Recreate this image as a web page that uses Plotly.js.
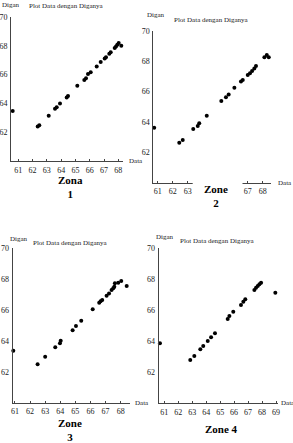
<!DOCTYPE html>
<html>
<head>
<meta charset="utf-8">
<script src="https://cdn.plot.ly/plotly-3.0.1.min.js"></script>
<style>
  html, body { margin: 0; padding: 0; background: #fff; }
  #chart { width: 293px; height: 443px; }
</style>
</head>
<body>
<div id="chart"></div>
<script>
// Zona 1
const zone1Data  = [60.61, 62.36, 62.47, 63.13, 63.57, 63.69, 63.92, 64.39, 64.48, 65.13, 65.62, 65.74, 65.88, 66.07, 66.49, 66.77, 67.05, 67.14, 67.37, 67.47, 67.75, 67.84, 67.93, 68.03, 68.21];
const zone1Digan = [63.48, 62.39, 62.48, 63.15, 63.62, 63.73, 63.99, 64.41, 64.52, 65.22, 65.63, 65.75, 66.05, 66.17, 66.56, 66.87, 67.12, 67.21, 67.44, 67.56, 67.84, 67.95, 68.07, 68.19, 68.00];

// Zone 2
const zone2Data  = [60.77, 62.44, 62.67, 63.37, 63.67, 63.77, 64.27, 65.24, 65.55, 65.73, 66.11, 66.55, 66.67, 67.00, 67.15, 67.29, 67.44, 67.55, 68.11, 68.27, 68.40];
const zone2Digan = [63.62, 62.63, 62.81, 63.53, 63.73, 63.91, 64.41, 65.37, 65.62, 65.81, 66.25, 66.65, 66.76, 67.09, 67.20, 67.35, 67.52, 67.67, 68.25, 68.40, 68.25];

// Zone 3
const zone3Data  = [60.89, 62.50, 63.00, 63.67, 63.98, 64.03, 64.82, 65.04, 65.39, 66.15, 66.58, 66.67, 66.78, 67.07, 67.23, 67.40, 67.51, 67.58, 67.62, 67.84, 68.04, 68.40];
const zone3Digan = [63.37, 62.49, 62.98, 63.59, 63.85, 64.02, 64.69, 64.97, 65.31, 66.05, 66.48, 66.57, 66.65, 66.93, 67.08, 67.30, 67.41, 67.51, 67.73, 67.77, 67.88, 67.56];

// Zone 4
const zone4Data  = [60.69, 62.86, 63.15, 63.58, 63.79, 64.11, 64.35, 64.63, 65.54, 65.66, 65.94, 66.49, 66.66, 66.80, 67.45, 67.57, 67.69, 67.81, 67.93, 68.95];
const zone4Digan = [63.87, 62.79, 63.05, 63.48, 63.70, 64.02, 64.26, 64.52, 65.44, 65.63, 65.91, 66.34, 66.55, 66.71, 67.31, 67.46, 67.57, 67.68, 67.78, 67.14];

const xTicks1 = [61, 62, 63, 64, 65, 66, 67, 68];
const xTicks2 = [61, 62, 63, 67, 68];
const xTicks4 = [61, 62, 63, 64, 65, 66, 67, 68, 69];
const yTicks  = [62, 64, 66, 68, 70];

const plotTitle = 'Plot Data dengan Diganya';
const yName = 'Digan';
const xName = 'Data';
const zoneNames = ['Zona<br>1', 'Zone<br>2', 'Zone<br>3', 'Zone 4'];

const W = 293, H = 443;
const SERIF = '"Liberation Serif", "DejaVu Serif", serif';
const INK = '#222';

// pixel helpers (y measured from the top of the page)
const px = v => v / W;
const py = v => (H - v) / H;

// panel frames: left, right, bottom, top in pixels plus x range
const panels = [
  { l: 11,    r: 123,   b: 161,   t: 17,    xr: [60.49, 68.33], ticks: xTicks1, data: zone1Data, digan: zone1Digan },
  { l: 153.3, r: 271,   b: 182.7, t: 30.7,  xr: [60.71, 68.55], ticks: xTicks2, data: zone2Data, digan: zone2Digan },
  { l: 12.7,  r: 130,   b: 402.7, t: 248.3, xr: [60.85, 68.62], ticks: xTicks1, data: zone3Data, digan: zone3Digan },
  { l: 158.7, r: 277.7, b: 403.3, t: 248.3, xr: [60.60, 69.12], ticks: xTicks4, data: zone4Data, digan: zone4Digan }
];

const traces = [];
const layout = {
  width: W, height: H,
  margin: { l: 0, r: 0, t: 0, b: 0 },
  paper_bgcolor: '#fff',
  plot_bgcolor: 'rgba(0,0,0,0)',
  showlegend: false,
  font: { family: SERIF, color: INK, size: 8 },
  annotations: [],
  shapes: []
};

panels.forEach((p, i) => {
  const n = i === 0 ? '' : String(i + 1);
  traces.push({
    type: 'scatter', mode: 'markers',
    x: p.data, y: p.digan,
    xaxis: 'x' + n, yaxis: 'y' + n,
    marker: { color: '#000', size: 4 },
    cliponaxis: false,
    hoverinfo: 'skip'
  });
  layout['xaxis' + n] = {
    domain: [px(p.l), px(p.r)],
    range: p.xr,
    anchor: 'y' + n,
    showgrid: false, zeroline: false,
    showline: true, linecolor: '#444', linewidth: 1,
    ticks: 'inside', ticklen: 2, tickcolor: '#444',
    tickvals: p.ticks,
    tickfont: { family: SERIF, size: 8, color: INK },
    ticklabelstandoff: 1
  };
  layout['yaxis' + n] = {
    domain: [py(p.b), py(p.t)],
    range: [60, 70],
    anchor: 'x' + n,
    showgrid: false, zeroline: false,
    showline: true, linecolor: '#444', linewidth: 1,
    ticks: '',
    tickvals: yTicks,
    tickfont: { family: SERIF, size: 8, color: INK },
    ticklabelstandoff: 1
  };
});

// panel texts: axis names and titles
const texts = [
  { t: yName, x: 0,     y: 5 },
  { t: plotTitle, x: 27, y: 6 },
  { t: xName, x: 127,   y: 161 },
  { t: yName, x: 145,   y: 15 },
  { t: plotTitle, x: 172, y: 20 },
  { t: xName, x: 276,   y: 183 },
  { t: yName, x: 8,     y: 239 },
  { t: plotTitle, x: 31, y: 243 },
  { t: xName, x: 133,   y: 403 },
  { t: yName, x: 154,   y: 237 },
  { t: plotTitle, x: 178, y: 241 },
  { t: xName, x: 279,   y: 403 }
];
texts.forEach(o => layout.annotations.push({
  text: o.t, xref: 'paper', yref: 'paper',
  x: px(o.x), y: py(o.y), xanchor: 'left', yanchor: 'middle',
  showarrow: false, font: { family: SERIF, size: 7, color: INK }
}));

// zone captions
const zonePos = [
  { x: 70,  y: 187 },
  { x: 216, y: 196 },
  { x: 70,  y: 430 },
  { x: 221, y: 429 }
];
zonePos.forEach((o, i) => layout.annotations.push({
  text: '<b>' + zoneNames[i] + '</b>', xref: 'paper', yref: 'paper',
  x: px(o.x), y: py(o.y), xanchor: 'center', yanchor: 'middle',
  showarrow: false, align: 'center',
  font: { family: SERIF, size: 11, color: '#000' }
}));

// the Zone 2 caption sits on a white box that breaks its x axis
layout.shapes.push({
  type: 'rect', xref: 'paper', yref: 'paper', layer: 'above',
  x0: px(192.7), x1: px(242.5), y0: py(196), y1: py(178),
  fillcolor: '#fff', line: { width: 0 }
});

Plotly.newPlot('chart', traces, layout, { staticPlot: true, displayModeBar: false });
</script>
</body>
</html>
